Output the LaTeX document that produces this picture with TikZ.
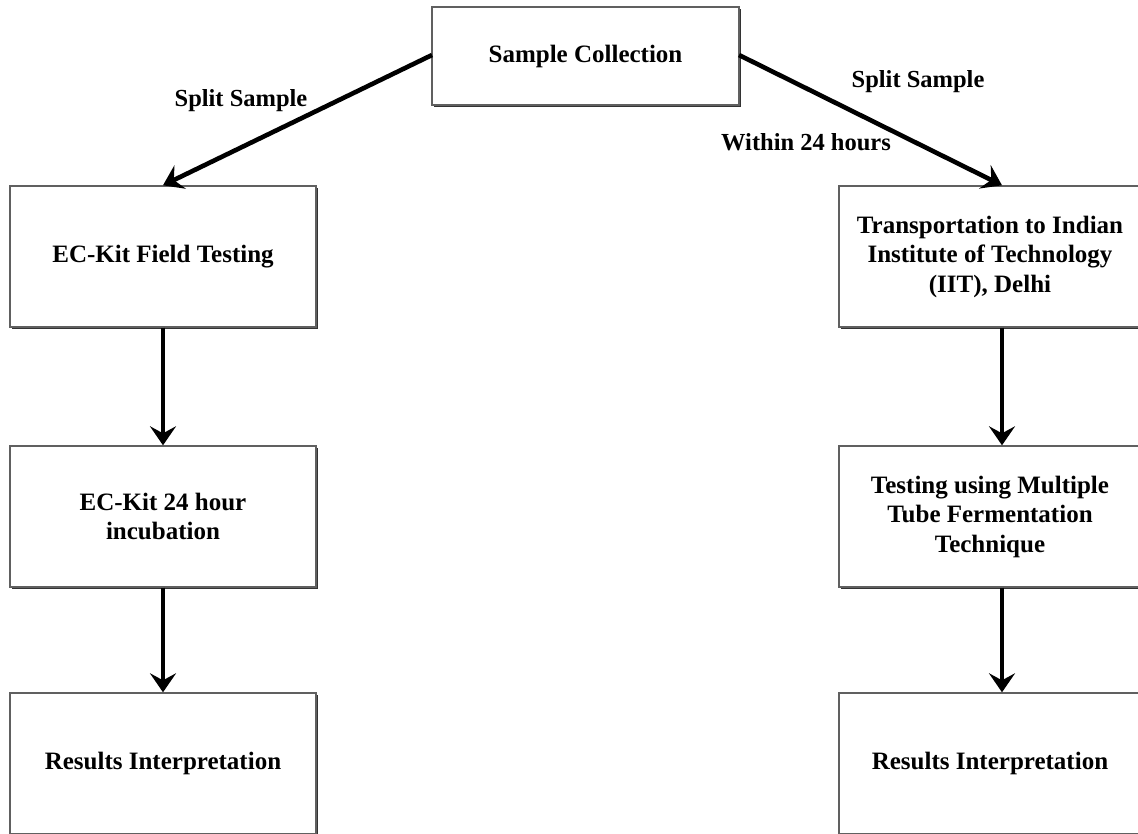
\documentclass[tikz,border=0pt]{standalone}
\usepackage{fontspec}
\setmainfont{Liberation Serif}
\usetikzlibrary{arrows.meta,shadows}
\begin{document}
\begin{tikzpicture}[x=1pt,y=-1pt,
  box/.style={draw=gray!75!black,line width=1.4pt,fill=white,align=center,
    inner sep=0pt,minimum height=141pt,
    font=\fontsize{25}{29.5}\selectfont\bfseries,
    drop shadow={shadow xshift=1.8pt,shadow yshift=-1.8pt,fill=black!80,opacity=1}},
  arr/.style={line width=4.6pt,-{Stealth[length=19pt,width=26pt,inset=7pt]}},
  lbl/.style={font=\fontsize{24.5}{29}\selectfont\bfseries,inner sep=0pt}]
\useasboundingbox (0,0) rectangle (1138,833);
\node[box,minimum width=307pt,minimum height=98pt] (sc) at (585.5,56) {Sample Collection};
\node[box,minimum width=306pt] (l1) at (163,256.5) {EC-Kit Field Testing};
\node[box,minimum width=306pt] (l2) at (163,516.5) {EC-Kit 24 hour\\incubation};
\node[box,minimum width=306pt] (l3) at (163,763.5) {Results Interpretation};
\node[box,minimum width=302pt] (r1) at (990,256.5) {Transportation to Indian\\Institute of Technology\\(IIT), Delhi};
\node[box,minimum width=302pt] (r2) at (990,516.5) {Testing using Multiple\\Tube Fermentation\\Technique};
\node[box,minimum width=302pt] (r3) at (990,763.5) {Results Interpretation};
\coordinate (sl) at (432,55);
\coordinate (sr) at (739,55);
\draw[arr] (sl) -- (l1.north);
\draw[arr] (sr) -- ([xshift=12pt]r1.north);
\draw[arr] (l1.south) -- (l2.north);
\draw[arr] (l2.south) -- (l3.north);
\draw[arr] ([xshift=12pt]r1.south) -- ([xshift=12pt]r2.north);
\draw[arr] ([xshift=12pt]r2.south) -- ([xshift=12pt]r3.north);
\node[lbl] (lab1) at (241,101) {Split Sample};
\node[lbl] (lab2) at (918,82) {Split Sample};
\node[lbl] (lab3) at (806,142) {Within 24 hours};
\end{tikzpicture}
\end{document}
